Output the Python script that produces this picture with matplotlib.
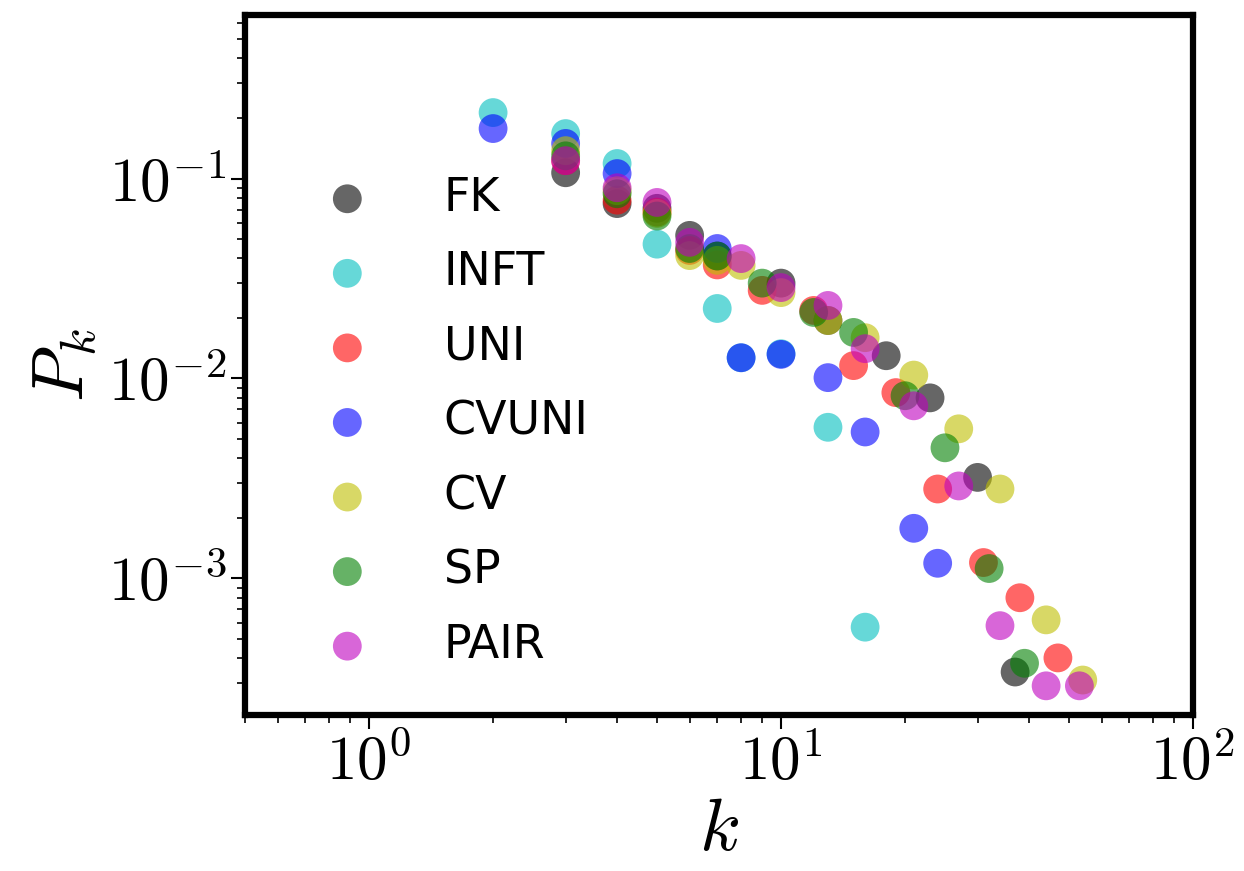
import numpy as np
import matplotlib.pyplot as plt
from matplotlib.ticker import FuncFormatter

plt.rcParams['mathtext.fontset'] = 'cm'

# degree distributions P_k
fk_k = [3, 4, 5, 6, 7, 10, 13, 18, 23, 30, 37]
fk_p = [0.107, 0.075, 0.071, 0.052, 0.041, 0.030, 0.0195, 0.013, 0.0080, 0.0032, 0.00034]

inft_k = [2, 3, 4, 5, 7, 8, 10, 13, 16]
inft_p = [0.214, 0.168, 0.119, 0.047, 0.0224, 0.0127, 0.0133, 0.0057, 0.00057]

uni_k = [3, 4, 5, 6, 7, 9, 12, 15, 19, 24, 31, 38, 47]
uni_p = [0.123, 0.078, 0.068, 0.0437, 0.037, 0.0276, 0.0219, 0.0116, 0.0085, 0.0028, 0.0012, 0.0008, 0.0004]

cvuni_k = [2, 3, 4, 7, 8, 10, 13, 16, 21, 24]
cvuni_p = [0.178, 0.150, 0.106, 0.0447, 0.0127, 0.0132, 0.0101, 0.0054, 0.00178, 0.00119]

cv_k = [3, 4, 5, 6, 7, 8, 10, 13, 16, 21, 27, 34, 44, 54]
cv_p = [0.138, 0.087, 0.067, 0.0412, 0.039, 0.0368, 0.0269, 0.0195, 0.016, 0.0104, 0.0056, 0.0028, 0.00062, 0.00031]

sp_k = [3, 4, 5, 6, 7, 9, 12, 15, 20, 25, 32, 39]
sp_p = [0.130, 0.084, 0.065, 0.0447, 0.041, 0.030, 0.0214, 0.017, 0.0082, 0.0045, 0.00112, 0.000376]

pair_k = [3, 4, 5, 6, 8, 10, 13, 16, 21, 27, 34, 44, 53]
pair_p = [0.123, 0.090, 0.076, 0.048, 0.0398, 0.0285, 0.0232, 0.0141, 0.0073, 0.0029, 0.00058, 0.00029, 0.00029]

labels = ['FK', 'INFT', 'UNI', 'CVUNI', 'CV', 'SP', 'PAIR']
colors = ['k', 'c', 'r', 'b', 'y', 'g', 'm']
series = [(fk_k, fk_p), (inft_k, inft_p), (uni_k, uni_p), (cvuni_k, cvuni_p),
          (cv_k, cv_p), (sp_k, sp_p), (pair_k, pair_p)]

fig = plt.figure(figsize=(12.44, 8.71), dpi=100)
ax = fig.add_axes([0.197, 0.179, 0.762, 0.804])

for (k, p), lab, col in zip(series, labels, colors):
    ax.scatter(k, p, s=430, c=col, alpha=0.6, edgecolors='none', label=lab)

ax.set_xscale('log')
ax.set_yscale('log')
ax.set_xlim(0.5, 100)
ax.set_ylim(2.07e-4, 0.66)

# latex-looking decade labels
decade = FuncFormatter(lambda v, pos: '$10^{%d}$' % round(np.log10(v)))
ax.xaxis.set_major_formatter(decade)
ax.yaxis.set_major_formatter(decade)

for sp in ax.spines.values():
    sp.set_linewidth(4.5)
ax.tick_params(which='major', length=10, width=1.5, labelsize=44, direction='out')
ax.tick_params(which='minor', length=6, width=1.2, direction='out')

ax.set_xlabel('$k$', fontsize=54, labelpad=0)
ax.set_ylabel('$P_k$', fontsize=52, labelpad=6)

ax.legend(loc='upper left', bbox_to_anchor=(0.016, 0.829), frameon=False,
          fontsize=33, labelspacing=0.645, handletextpad=1.1)

plt.savefig('out.png', dpi=100)
